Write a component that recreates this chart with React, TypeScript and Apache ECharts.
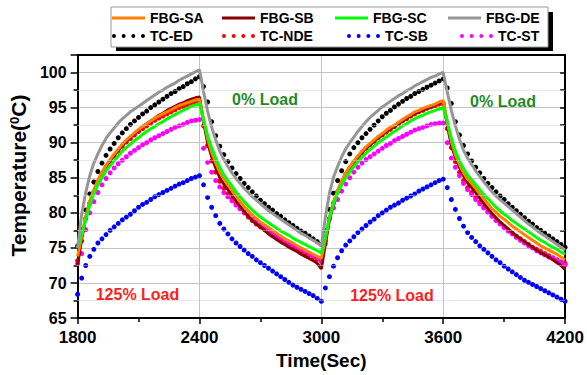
import React, { useEffect, useRef } from 'react';
import * as echarts from 'echarts';

// sampling of the recorded curves (s)
const T0 = 1800;
const DT = 20;

const xTickValues = [1800, 2400, 3000, 3600, 4200];
const yTickValues = [65, 70, 75, 80, 85, 90, 95, 100];
const yMinorGridValues = [67.5, 72.5, 77.5, 82.5, 87.5, 92.5, 97.5];

const seriesNames = ['FBG-SA', 'FBG-SB', 'FBG-SC', 'FBG-DE', 'TC-ED', 'TC-NDE', 'TC-SB', 'TC-ST'];

const fbgSA = [
  73.8, 76.6, 79.5, 81.7, 83.3, 84.7, 85.8, 86.8, 87.6, 88.4, 89.1, 89.8, 90.4, 90.9, 91.4, 91.9, 92.3, 92.7, 93.1, 93.5, 93.8, 94.1, 94.4, 94.7, 95.0, 95.3, 95.5, 95.7, 95.9, 96.1, 96.2,
  93.4, 90.6, 88.6, 87.1, 85.8, 84.8, 84.0, 83.2, 82.4, 81.6, 80.9, 80.3, 79.7, 79.2, 78.7, 78.3, 77.9, 77.5, 77.1, 76.7, 76.3, 76.0, 75.7, 75.3, 75.0, 74.7, 74.4, 74.1, 73.8, 73.5,
  76.3, 79.4, 81.6, 83.2, 84.6, 85.7, 86.6, 87.4, 88.1, 88.8, 89.4, 89.9, 90.4, 90.9, 91.3, 91.8, 92.2, 92.5, 92.9, 93.3, 93.7, 94.0, 94.4, 94.6, 94.9, 95.1, 95.3, 95.5, 95.8, 96.0,
  93.0, 90.2, 88.3, 86.9, 85.7, 84.8, 84.2, 83.5, 82.7, 82.0, 81.3, 80.6, 80.1, 79.5, 79.1, 78.6, 78.1, 77.7, 77.3, 76.9, 76.5, 76.1, 75.7, 75.3, 75.0, 74.7, 74.4, 74.1, 73.7, 73.3,
];

const fbgSB = [
  72.6, 76.2, 79.3, 81.5, 83.1, 84.5, 85.6, 86.6, 87.4, 88.2, 88.9, 89.6, 90.2, 90.8, 91.3, 91.8, 92.3, 92.7, 93.1, 93.5, 93.9, 94.2, 94.6, 94.9, 95.2, 95.5, 95.7, 96.0, 96.2, 96.4, 96.5,
  93.0, 90.0, 88.0, 86.4, 85.0, 84.1, 83.3, 82.5, 81.7, 80.9, 80.2, 79.5, 78.9, 78.4, 78.0, 77.5, 77.0, 76.6, 76.2, 75.8, 75.5, 75.1, 74.8, 74.5, 74.1, 73.8, 73.5, 73.2, 72.8, 72.0,
  75.6, 79.0, 81.3, 83.0, 84.4, 85.5, 86.4, 87.2, 87.9, 88.6, 89.2, 89.7, 90.2, 90.7, 91.1, 91.6, 92.0, 92.3, 92.7, 93.1, 93.5, 93.8, 94.2, 94.4, 94.7, 94.9, 95.1, 95.4, 95.7, 95.9,
  92.5, 89.6, 87.9, 86.5, 85.3, 84.3, 83.6, 82.9, 82.1, 81.3, 80.6, 79.9, 79.3, 78.7, 78.2, 77.7, 77.2, 76.7, 76.3, 75.9, 75.5, 75.1, 74.7, 74.3, 74.0, 73.7, 73.3, 72.9, 72.5, 71.9,
];

const fbgSC = [
  75.0, 76.9, 79.0, 81.1, 82.7, 84.0, 85.0, 86.0, 86.7, 87.4, 88.1, 88.8, 89.3, 89.8, 90.3, 90.7, 91.2, 91.6, 92.0, 92.3, 92.7, 93.0, 93.4, 93.7, 94.0, 94.3, 94.6, 94.9, 95.2, 95.4, 95.6,
  93.2, 91.0, 89.3, 87.8, 86.5, 85.4, 84.6, 83.8, 83.0, 82.3, 81.6, 81.0, 80.4, 79.9, 79.4, 79.0, 78.6, 78.2, 77.8, 77.4, 77.1, 76.8, 76.4, 76.1, 75.8, 75.5, 75.2, 74.9, 74.6, 74.3,
  76.6, 79.3, 81.3, 82.8, 84.0, 85.0, 85.8, 86.6, 87.3, 87.9, 88.5, 89.0, 89.5, 90.0, 90.4, 90.8, 91.2, 91.6, 92.0, 92.4, 92.7, 93.1, 93.4, 93.7, 93.9, 94.2, 94.4, 94.6, 94.8, 95.0,
  93.0, 90.6, 88.8, 87.4, 86.3, 85.4, 84.7, 84.0, 83.3, 82.6, 82.0, 81.4, 80.8, 80.3, 79.8, 79.4, 78.9, 78.5, 78.1, 77.7, 77.3, 76.9, 76.5, 76.1, 75.8, 75.4, 75.1, 74.8, 74.4, 74.1,
];

const fbgDE = [
  75.0, 79.8, 82.9, 85.3, 87.1, 88.4, 89.6, 90.6, 91.4, 92.1, 92.8, 93.4, 93.9, 94.4, 94.8, 95.2, 95.6, 96.0, 96.4, 96.8, 97.2, 97.5, 97.9, 98.2, 98.5, 98.9, 99.2, 99.5, 99.8, 100.1, 100.4,
  97.3, 94.5, 92.2, 90.4, 88.8, 87.6, 86.6, 85.7, 84.9, 84.2, 83.5, 82.9, 82.3, 81.8, 81.3, 80.8, 80.3, 79.9, 79.5, 79.1, 78.7, 78.3, 77.9, 77.5, 77.1, 76.8, 76.4, 76.1, 75.7, 75.3,
  79.4, 82.8, 85.1, 86.6, 88.0, 89.1, 90.0, 90.8, 91.6, 92.3, 93.0, 93.6, 94.1, 94.6, 95.1, 95.5, 95.9, 96.3, 96.7, 97.0, 97.4, 97.7, 98.1, 98.4, 98.7, 99.0, 99.3, 99.5, 99.8, 100.0,
  97.2, 94.6, 92.4, 90.5, 88.9, 87.8, 86.9, 86.0, 85.2, 84.4, 83.7, 83.0, 82.4, 81.9, 81.4, 80.9, 80.4, 79.9, 79.4, 78.9, 78.4, 78.0, 77.5, 77.1, 76.7, 76.3, 75.9, 75.5, 75.1, 74.7,
];

const tcED = [
  75.3, 77.6, 80.4, 82.7, 84.4, 85.9, 87.1, 88.2, 89.1, 89.9, 90.7, 91.4, 92.0, 92.6, 93.1, 93.6, 94.1, 94.5, 95.0, 95.4, 95.8, 96.2, 96.6, 97.0, 97.3, 97.7, 98.0, 98.4, 98.7, 99.1, 99.4,
  98.0, 95.8, 93.0, 91.0, 89.5, 88.3, 87.3, 86.4, 85.6, 84.9, 84.2, 83.6, 83.0, 82.4, 81.8, 81.3, 80.8, 80.4, 79.9, 79.5, 79.0, 78.6, 78.2, 77.8, 77.4, 77.1, 76.7, 76.3, 75.9, 75.5,
  77.5, 80.5, 82.8, 84.6, 86.0, 87.3, 88.4, 89.3, 90.0, 90.7, 91.3, 91.9, 92.5, 93.1, 93.7, 94.2, 94.6, 95.1, 95.5, 95.9, 96.3, 96.6, 97.0, 97.3, 97.6, 97.9, 98.2, 98.5, 98.8, 99.1,
  97.8, 95.6, 93.0, 91.1, 89.6, 88.4, 87.4, 86.5, 85.7, 84.9, 84.2, 83.6, 83.0, 82.4, 81.9, 81.3, 80.8, 80.3, 79.8, 79.3, 78.8, 78.4, 77.9, 77.5, 77.1, 76.7, 76.3, 75.9, 75.5, 75.1,
];

const tcNDE = [
  73.2, 76.0, 79.2, 81.4, 83.0, 84.4, 85.5, 86.5, 87.3, 88.1, 88.8, 89.5, 90.1, 90.6, 91.1, 91.6, 92.0, 92.4, 92.8, 93.2, 93.5, 93.8, 94.1, 94.4, 94.7, 95.0, 95.2, 95.4, 95.6, 95.8, 95.9,
  92.4, 89.6, 87.4, 85.8, 84.5, 83.5, 82.7, 82.0, 81.3, 80.6, 80.0, 79.4, 78.9, 78.4, 78.0, 77.6, 77.2, 76.8, 76.4, 76.1, 75.7, 75.4, 75.1, 74.8, 74.5, 74.2, 74.0, 73.7, 73.4, 73.1,
  76.0, 79.2, 81.4, 83.0, 84.4, 85.5, 86.4, 87.2, 87.9, 88.6, 89.2, 89.7, 90.2, 90.7, 91.1, 91.5, 91.9, 92.3, 92.7, 93.1, 93.4, 93.8, 94.1, 94.4, 94.6, 94.9, 95.1, 95.3, 95.5, 95.6,
  92.0, 89.3, 87.3, 85.8, 84.6, 83.6, 82.9, 82.2, 81.5, 80.8, 80.2, 79.6, 79.0, 78.5, 78.0, 77.5, 77.1, 76.7, 76.3, 75.9, 75.5, 75.1, 74.8, 74.5, 74.2, 73.9, 73.6, 73.3, 73.0, 72.8,
];

const tcSB = [
  68.4, 70.7, 72.5, 73.8, 74.8, 75.7, 76.3, 76.9, 77.5, 78.0, 78.5, 79.0, 79.4, 79.8, 80.3, 80.8, 81.2, 81.5, 81.9, 82.3, 82.6, 82.9, 83.2, 83.5, 83.8, 84.1, 84.3, 84.6, 84.9, 85.1, 85.3,
  84.0, 82.2, 80.8, 79.6, 78.5, 77.7, 77.0, 76.3, 75.7, 75.2, 74.7, 74.2, 73.8, 73.3, 72.9, 72.5, 72.1, 71.7, 71.3, 70.9, 70.5, 70.1, 69.7, 69.4, 69.1, 68.8, 68.5, 68.2, 67.8, 67.4,
  69.3, 70.9, 72.4, 73.6, 74.6, 75.4, 76.0, 76.6, 77.2, 77.7, 78.2, 78.7, 79.1, 79.6, 80.0, 80.4, 80.8, 81.1, 81.4, 81.8, 82.1, 82.4, 82.7, 83.1, 83.4, 83.7, 84.0, 84.3, 84.6, 84.8,
  83.6, 81.9, 80.5, 79.2, 78.1, 77.2, 76.5, 75.9, 75.3, 74.8, 74.3, 73.8, 73.3, 72.9, 72.4, 72.0, 71.6, 71.2, 70.8, 70.4, 70.1, 69.8, 69.5, 69.2, 68.9, 68.6, 68.3, 68.0, 67.7, 67.4,
];

const tcST = [
  72.8, 74.2, 77.6, 80.0, 81.6, 82.9, 84.0, 84.9, 85.7, 86.4, 87.0, 87.5, 88.0, 88.5, 88.9, 89.3, 89.7, 90.0, 90.4, 90.7, 91.0, 91.3, 91.6, 91.9, 92.2, 92.4, 92.6, 92.9, 93.1, 93.2, 93.3,
  89.2, 87.2, 85.8, 84.6, 83.7, 82.9, 82.3, 81.7, 81.1, 80.6, 80.1, 79.6, 79.1, 78.7, 78.3, 77.9, 77.5, 77.1, 76.7, 76.4, 76.0, 75.7, 75.4, 75.1, 74.8, 74.5, 74.2, 73.9, 73.6, 73.2,
  75.6, 79.1, 80.7, 81.9, 83.1, 84.1, 85.0, 85.8, 86.5, 87.1, 87.6, 88.0, 88.4, 88.8, 89.2, 89.6, 89.9, 90.3, 90.6, 90.9, 91.2, 91.5, 91.8, 92.0, 92.2, 92.4, 92.6, 92.7, 92.8, 92.8,
  90.0, 87.8, 86.5, 85.3, 84.2, 83.3, 82.6, 81.9, 81.3, 80.7, 80.1, 79.5, 78.9, 78.4, 77.9, 77.4, 77.0, 76.5, 76.1, 75.7, 75.3, 75.0, 74.6, 74.3, 74.0, 73.7, 73.5, 73.2, 72.9, 72.6,
];

const annotations = [
  { text: '0% Load', x: 265, y: 99, color: '#1f8b1f' },
  { text: '0% Load', x: 503, y: 101, color: '#1f8b1f' },
  { text: '125% Load', x: 137.5, y: 294, color: '#ff1e1e' },
  { text: '125% Load', x: 392, y: 295, color: '#ff1e1e' },
];

const FONT = '"Liberation Sans", Arial, Helvetica, sans-serif';
const LINE_ICON = 'path://M0,0H33V3H0Z';
const DOT_ICON =
  'path://M0,2A2,2,0,1,0,4,2A2,2,0,1,0,0,2Z' +
  'M9.7,2A2,2,0,1,0,13.7,2A2,2,0,1,0,9.7,2Z' +
  'M19.4,2A2,2,0,1,0,23.4,2A2,2,0,1,0,19.4,2Z' +
  'M29.1,2A2,2,0,1,0,33.1,2A2,2,0,1,0,29.1,2Z';

const COLORS: Record<string, string> = {
  'FBG-SA': '#ff8000',
  'FBG-SB': '#8b0000',
  'FBG-SC': '#00ff00',
  'FBG-DE': '#959595',
  'TC-ED': '#000000',
  'TC-NDE': '#ff0000',
  'TC-SB': '#0000ff',
  'TC-ST': '#ff00ff',
};

const legendLayout = [
  { name: 'FBG-SA', left: 112, top: 11, icon: LINE_ICON },
  { name: 'FBG-SB', left: 222, top: 11, icon: LINE_ICON },
  { name: 'FBG-SC', left: 335, top: 11, icon: LINE_ICON },
  { name: 'FBG-DE', left: 448, top: 11, icon: LINE_ICON },
  { name: 'TC-ED', left: 112, top: 29, icon: DOT_ICON },
  { name: 'TC-NDE', left: 222, top: 29, icon: DOT_ICON },
  { name: 'TC-SB', left: 347, top: 29, icon: DOT_ICON },
  { name: 'TC-ST', left: 460, top: 29, icon: DOT_ICON },
];

const toXY = (vals: number[]) => vals.map((v, i) => [T0 + i * DT, v]);

function lineSeries(name: string, vals: number[]) {
  return {
    name,
    type: 'line',
    data: toXY(vals),
    showSymbol: false,
    symbol: 'none',
    color: COLORS[name],
    itemStyle: { color: COLORS[name] },
    lineStyle: { color: COLORS[name], width: 3 },
  };
}

function dotSeries(name: string, vals: number[], extra: any = {}) {
  return {
    name,
    type: 'scatter',
    data: toXY(vals),
    symbol: 'circle',
    symbolSize: 5,
    color: COLORS[name],
    itemStyle: { color: COLORS[name], opacity: 1 },
    ...extra,
  };
}

export default function App() {
  const ref = useRef<HTMLDivElement>(null);

  useEffect(() => {
    if (!ref.current) return;
    const chart = echarts.init(ref.current, null, { renderer: 'svg' });

    const axisLineStyle = { color: '#000', width: 2 };
    const tickStyle = { color: '#000', width: 1.5 };
    const labelStyle = { color: '#000', fontWeight: 'bold' as const, fontFamily: FONT };

    const option: any = {
      animation: false,
      backgroundColor: '#fff',
      grid: { left: 73.5, right: 20.5, top: 55, bottom: 53, containLabel: false },
      legend: legendLayout.map((l) => ({
        data: [{ name: l.name, icon: l.icon }],
        left: l.left,
        top: l.top,
        padding: 0,
        itemWidth: 33,
        itemHeight: 14,
        itemGap: 0,
        selectedMode: false,
        itemStyle: { borderWidth: 0, opacity: 1 },
        textStyle: { fontSize: 14, fontWeight: 'bold', color: '#000', fontFamily: FONT },
      })),
      xAxis: [
        {
          type: 'value',
          min: xTickValues[0],
          max: xTickValues[xTickValues.length - 1],
          interval: xTickValues[1] - xTickValues[0],
          position: 'bottom',
          axisLine: { show: true, lineStyle: axisLineStyle },
          axisTick: { show: true, length: 6, lineStyle: tickStyle },
          minorTick: { show: true, splitNumber: 2, length: 4, lineStyle: tickStyle },
          axisLabel: { ...labelStyle, fontSize: 17, margin: 11, formatter: (v: number) => String(v) },
          splitLine: { show: true, lineStyle: { color: '#c4c4c4', width: 1 } },
          name: 'Time(Sec)',
          nameLocation: 'middle',
          nameGap: 30,
          nameTextStyle: { ...labelStyle, fontSize: 19 },
        },
        {
          type: 'value',
          min: xTickValues[0],
          max: xTickValues[xTickValues.length - 1],
          interval: xTickValues[1] - xTickValues[0],
          position: 'top',
          axisLine: { show: true, lineStyle: axisLineStyle },
          axisTick: { show: false },
          axisLabel: { show: false },
          splitLine: { show: false },
        },
      ],
      yAxis: [
        {
          type: 'value',
          min: yTickValues[0],
          max: 102.5,
          interval: yTickValues[1] - yTickValues[0],
          position: 'left',
          axisLine: { show: true, lineStyle: axisLineStyle },
          axisTick: { show: true, length: 7, lineStyle: tickStyle },
          minorTick: { show: true, splitNumber: 2, length: 4, lineStyle: tickStyle },
          axisLabel: { ...labelStyle, fontSize: 16, margin: 11, showMaxLabel: false },
          splitLine: { show: true, lineStyle: { color: '#c4c4c4', width: 1 } },
          name: '{a|Temperature(}{s|0}{a|C)}',
          nameLocation: 'middle',
          nameRotate: 90,
          nameGap: 42,
          nameTextStyle: {
            padding: [0, 0, 0, 22],
            rich: {
              a: { ...labelStyle, fontSize: 21 },
              s: { ...labelStyle, fontSize: 13, verticalAlign: 'top' },
            },
          },
        },
        {
          type: 'value',
          min: yTickValues[0],
          max: 102.5,
          interval: 2.5,
          position: 'right',
          axisLine: { show: true, lineStyle: axisLineStyle },
          axisTick: { show: true, inside: true, length: 5, lineStyle: tickStyle },
          axisLabel: { show: false },
          splitLine: { show: false },
        },
      ],
      graphic: [
        { type: 'rect', z: 0, shape: { x: 116, y: 12, width: 437, height: 39 }, style: { fill: '#000' } },
        {
          type: 'rect',
          z: 1,
          shape: { x: 111, y: 7, width: 437, height: 40 },
          style: { fill: '#fff', stroke: '#999', lineWidth: 1 },
        },
        ...annotations.map((a) => ({
          type: 'text',
          z: 10,
          x: a.x,
          y: a.y,
          style: {
            text: a.text,
            fill: a.color,
            font: `bold 16px ${FONT}`,
            align: 'center',
            verticalAlign: 'middle',
          },
        })),
      ],
      series: [
        dotSeries('TC-NDE', tcNDE, {
          markLine: {
            silent: true,
            symbol: 'none',
            label: { show: false },
            lineStyle: { color: '#d0d0d0', type: 'dotted', width: 1 },
            data: yMinorGridValues.map((v) => ({ yAxis: v })),
          },
        }),
        lineSeries('FBG-SB', fbgSB),
        lineSeries('FBG-SA', fbgSA),
        lineSeries('FBG-SC', fbgSC),
        lineSeries('FBG-DE', fbgDE),
        dotSeries('TC-ED', tcED),
        dotSeries('TC-ST', tcST),
        dotSeries('TC-SB', tcSB),
      ],
    };

    chart.setOption(option);
    return () => chart.dispose();
  }, []);

  return (
    <div
      ref={ref}
      style={{ position: 'absolute', left: 0, top: 0, width: 587, height: 375, background: '#fff' }}
    />
  );
}
